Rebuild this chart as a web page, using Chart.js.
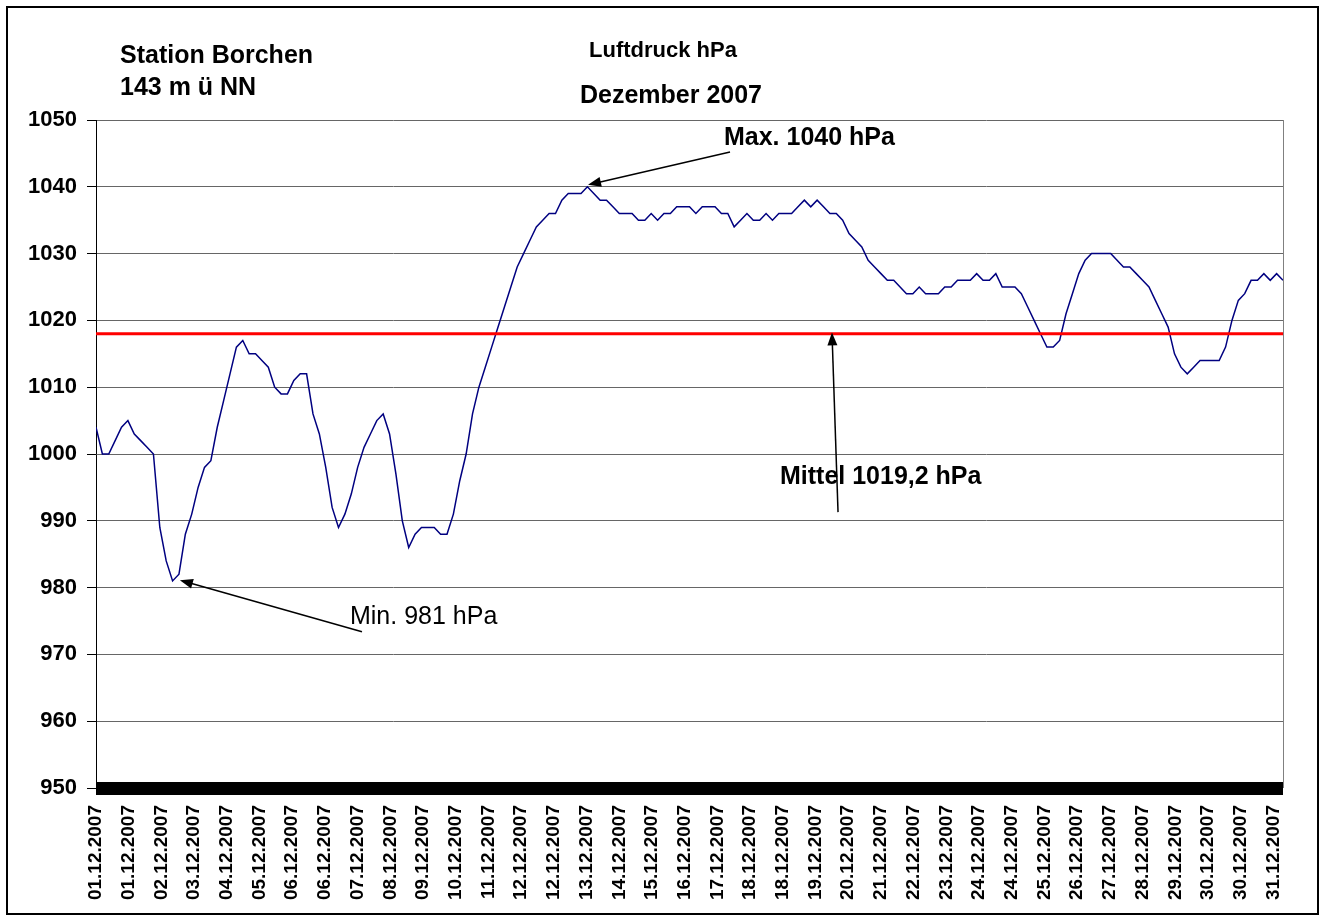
<!DOCTYPE html>
<html>
<head>
<meta charset="utf-8">
<script src="https://cdn.jsdelivr.net/npm/chart.js@4.4.0/dist/chart.umd.min.js"></script>
<style>
  html, body { margin: 0; padding: 0; background: #fff; }
  #wrap { width: 1328px; height: 919px; position: relative; }
</style>
</head>
<body>
<div id="wrap"><canvas id="c"></canvas></div>
<script>
const FONT = "'Liberation Sans', Arial, sans-serif";

// x-Achse: eine Beschriftung alle 20,5 Stunden
const dateLabels = [
  '01.12.2007', '01.12.2007', '02.12.2007', '03.12.2007', '04.12.2007', '05.12.2007',
  '06.12.2007', '06.12.2007', '07.12.2007', '08.12.2007', '09.12.2007', '10.12.2007',
  '11.12.2007', '12.12.2007', '12.12.2007', '13.12.2007', '14.12.2007', '15.12.2007',
  '16.12.2007', '17.12.2007', '18.12.2007', '18.12.2007', '19.12.2007', '20.12.2007',
  '21.12.2007', '22.12.2007', '23.12.2007', '24.12.2007', '24.12.2007', '25.12.2007',
  '26.12.2007', '27.12.2007', '28.12.2007', '29.12.2007', '30.12.2007', '30.12.2007',
  '31.12.2007'
];
const labelStepHours = 20.5;
const sampleStepHours = 4;
const monthHours = 744;

const pressure = [
  1004, 1000, 1000, 1002, 1004, 1005, 1003, 1002, 1001, 1000,
  989, 984, 981, 982, 988, 991, 995, 998, 999, 1004,
  1008, 1012, 1016, 1017, 1015, 1015, 1014, 1013, 1010, 1009,
  1009, 1011, 1012, 1012, 1006, 1003, 998, 992, 989, 991,
  994, 998, 1001, 1003, 1005, 1006, 1003, 997, 990, 986,
  988, 989, 989, 989, 988, 988, 991, 996, 1000, 1006,
  1010, 1013, 1016, 1019, 1022, 1025, 1028, 1030, 1032, 1034,
  1035, 1036, 1036, 1038, 1039, 1039, 1039, 1040, 1039, 1038,
  1038, 1037, 1036, 1036, 1036, 1035, 1035, 1036, 1035, 1036,
  1036, 1037, 1037, 1037, 1036, 1037, 1037, 1037, 1036, 1036,
  1034, 1035, 1036, 1035, 1035, 1036, 1035, 1036, 1036, 1036,
  1037, 1038, 1037, 1038, 1037, 1036, 1036, 1035, 1033, 1032,
  1031, 1029, 1028, 1027, 1026, 1026, 1025, 1024, 1024, 1025,
  1024, 1024, 1024, 1025, 1025, 1026, 1026, 1026, 1027, 1026,
  1026, 1027, 1025, 1025, 1025, 1024, 1022, 1020, 1018, 1016,
  1016, 1017, 1021, 1024, 1027, 1029, 1030, 1030, 1030, 1030,
  1029, 1028, 1028, 1027, 1026, 1025, 1023, 1021, 1019, 1015,
  1013, 1012, 1013, 1014, 1014, 1014, 1014, 1016, 1020, 1023,
  1024, 1026, 1026, 1027, 1026, 1027, 1026
];

const meanLine = 1018;

// Hinweise mit Pfeil, in Achseneinheiten (Stunden / hPa)
const notes = [
  { text: 'Max. 1040 hPa', bold: true, x: 393.6, y: 1047.3, from: [397.4, 1045.2], to: [308.4, 1040.3] },
  { text: 'Min. 981 hPa', bold: false, x: 159.2, y: 975.6, from: [166.7, 973.4], to: [52.6, 981.1] },
  { text: 'Mittel 1019,2 hPa', bold: true, x: 428.7, y: 996.6, from: [465.1, 991.3], to: [461.3, 1018.2] }
];

const pressurePoints = pressure.map((v, i) => ({ x: i * sampleStepHours, y: v }));
const meanPoints = [{ x: 0, y: meanLine }, { x: monthHours, y: meanLine }];

function arrow(ctx, x1, y1, x2, y2) {
  const a = Math.atan2(y2 - y1, x2 - x1);
  const len = 13, half = 5;
  ctx.beginPath();
  ctx.moveTo(x1, y1);
  ctx.lineTo(x2 - Math.cos(a) * len * 0.8, y2 - Math.sin(a) * len * 0.8);
  ctx.stroke();
  ctx.beginPath();
  ctx.moveTo(x2, y2);
  ctx.lineTo(x2 - Math.cos(a) * len - Math.sin(a) * half, y2 - Math.sin(a) * len + Math.cos(a) * half);
  ctx.lineTo(x2 - Math.cos(a) * len + Math.sin(a) * half, y2 - Math.sin(a) * len - Math.cos(a) * half);
  ctx.closePath();
  ctx.fill();
}

const decor = {
  id: 'decor',
  beforeDatasetsDraw(chart) {
    const { ctx, chartArea: ca } = chart;
    ctx.save();
    // rechter Rand der Zeichenfläche
    ctx.strokeStyle = '#808080';
    ctx.lineWidth = 1;
    ctx.beginPath();
    ctx.moveTo(Math.round(ca.right) + 0.5, ca.top);
    ctx.lineTo(Math.round(ca.right) + 0.5, ca.bottom);
    ctx.stroke();
    ctx.restore();
  },
  afterDatasetsDraw(chart) {
    const { ctx, chartArea: ca, scales } = chart;
    const xs = scales.x, ys = scales.y;
    ctx.save();

    // dichte Teilstriche an der x-Achse
    ctx.fillStyle = '#000';
    ctx.fillRect(ca.left, ca.bottom - 6, ca.right - ca.left, 13);

    // Titel
    ctx.fillStyle = '#000';
    ctx.textBaseline = 'middle';
    ctx.textAlign = 'left';
    ctx.font = 'bold 25px ' + FONT;
    ctx.fillText('Station Borchen', 120, 56);
    ctx.fillText('143 m ü NN', 120, 88);
    ctx.textAlign = 'center';
    ctx.fillText('Dezember 2007', 671, 96);
    ctx.font = 'bold 22px ' + FONT;
    ctx.fillText('Luftdruck hPa', 663, 51);

    // Hinweise
    ctx.strokeStyle = '#000';
    ctx.lineWidth = 1.5;
    notes.forEach(n => {
      ctx.font = (n.bold ? 'bold ' : '') + '25px ' + FONT;
      ctx.textAlign = 'left';
      ctx.fillText(n.text, xs.getPixelForValue(n.x), ys.getPixelForValue(n.y));
      arrow(ctx,
        xs.getPixelForValue(n.from[0]), ys.getPixelForValue(n.from[1]),
        xs.getPixelForValue(n.to[0]), ys.getPixelForValue(n.to[1]));
    });

    // äußerer Rahmen
    ctx.lineWidth = 2;
    ctx.strokeRect(7, 7, 1311, 907);
    ctx.restore();
  }
};

new Chart(document.getElementById('c'), {
  type: 'line',
  data: {
    datasets: [
      {
        label: 'Luftdruck',
        data: pressurePoints,
        borderColor: '#000080',
        borderWidth: 1.5,
        pointRadius: 0,
        tension: 0,
        order: 2
      },
      {
        label: 'Mittel',
        data: meanPoints,
        borderColor: '#ff0000',
        borderWidth: 3,
        pointRadius: 0,
        order: 1
      }
    ]
  },
  options: {
    responsive: true,
    maintainAspectRatio: false,
    animation: false,
    layout: { padding: { top: 120, left: 10, right: 45, bottom: 0 } },
    plugins: { legend: { display: false }, tooltip: { enabled: false } },
    scales: {
      x: {
        type: 'linear',
        min: 0,
        max: monthHours,
        afterBuildTicks(scale) {
          scale.ticks = dateLabels.map((_, k) => ({ value: k * labelStepHours }));
        },
        afterFit(scale) { scale.height = 131; },
        grid: { display: false },
        border: { display: false },
        ticks: {
          autoSkip: false,
          minRotation: 90,
          maxRotation: 90,
          padding: 9,
          color: '#000',
          font: { family: FONT, size: 19, weight: 'bold' },
          callback: (v, i) => dateLabels[i]
        }
      },
      y: {
        min: 950,
        max: 1050,
        afterFit(scale) { scale.width = 86; },
        grid: { color: '#666', lineWidth: 1, tickColor: '#000', tickLength: 9 },
        border: { color: '#000', width: 1 },
        ticks: {
          stepSize: 10,
          padding: 10,
          color: '#000',
          font: { family: FONT, size: 22, weight: 'bold' },
          callback: v => String(v)
        }
      }
    }
  },
  plugins: [decor]
});
</script>
</body>
</html>
